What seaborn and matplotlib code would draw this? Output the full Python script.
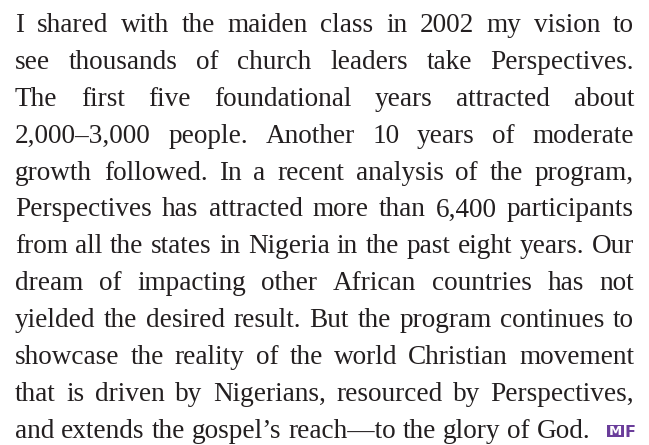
import matplotlib
matplotlib.use("Agg")
import matplotlib.pyplot as plt
from matplotlib.patches import Rectangle
import seaborn as sns

sns.set_theme(style="white")
plt.rcParams['font.family'] = ['Liberation Serif', 'DejaVu Serif']

lines = [
    "I shared with the maiden class in 2002 my vision to",
    "see thousands of church leaders take Perspectives.",
    "The first five foundational years attracted about",
    "2,000\u20133,000 people. Another 10 years of moderate",
    "growth followed. In a recent analysis of the program,",
    "Perspectives has attracted more than 6,400 participants",
    "from all the states in Nigeria in the past eight years. Our",
    "dream of impacting other African countries has not",
    "yielded the desired result. But the program continues to",
    "showcase the reality of the world Christian movement",
    "that is driven by Nigerians, resourced by Perspectives,",
    "and extends the gospel\u2019s reach\u2014to the glory of God.",
]
logo_text = ["M", "F"]
text_color = "#231f20"
logo_color = "#6a3d9a"

W, H = 649, 445
fig = plt.figure(figsize=(W / 100, H / 100), dpi=100)
fig.patch.set_facecolor("white")
ax = fig.add_axes([0, 0, 1, 1])
ax.set_xlim(0, W)
ax.set_ylim(H, 0)
ax.axis("off")

left, right = 15, 634
first_base, spacing = 32, 36.9
fs = 19.6

renderer = fig.canvas.get_renderer()

def width_of(t):
    tt = ax.text(0, 0, t, fontsize=fs)
    w = tt.get_window_extent(renderer).width
    tt.remove()
    return w

space_w = width_of("a b") - width_of("ab")

for i, line in enumerate(lines):
    y = first_base + i * spacing
    words = line.split(" ")
    widths = [width_of(w) for w in words]
    last = i == len(lines) - 1
    if last or len(words) == 1:
        gap = space_w
    else:
        gap = (right - left - sum(widths)) / (len(words) - 1)
    x = left
    for w, wd in zip(words, widths):
        ax.text(x, y, w, fontsize=fs, color=text_color, va="baseline", ha="left")
        x += wd + gap
    if last:
        lx = 607
        ax.add_patch(Rectangle((lx, y - 13), 17, 12, fc=logo_color, ec="none"))
        ax.text(lx + 8.5, y - 2.5, logo_text[0], fontsize=9.5, fontweight="bold",
                family="DejaVu Sans", color="white", va="baseline", ha="center")
        ax.text(lx + 18, y - 1, logo_text[1], fontsize=11.5, fontweight="bold",
                family="DejaVu Sans", color=logo_color, va="baseline", ha="left")

fig.savefig("out.png", dpi=100, facecolor="white")
